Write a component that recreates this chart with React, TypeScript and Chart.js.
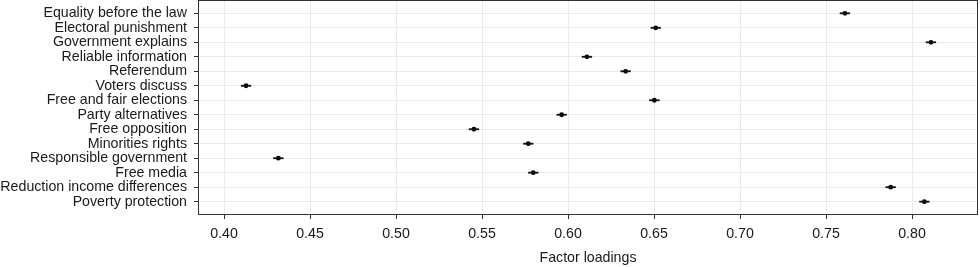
import React, { useEffect, useRef } from "react";
import { Chart, registerables } from "chart.js";

Chart.register(...registerables);

const categories = [
  "Equality before the law",
  "Electoral punishment",
  "Government explains",
  "Reliable information",
  "Referendum",
  "Voters discuss",
  "Free and fair elections",
  "Party alternatives",
  "Free opposition",
  "Minorities rights",
  "Responsible government",
  "Free media",
  "Reduction income differences",
  "Poverty protection",
];

const loadings = [0.761, 0.651, 0.811, 0.611, 0.6335, 0.4128, 0.6502, 0.5963, 0.5453, 0.5769, 0.4316, 0.5798, 0.7876, 0.8072];
const errors = [0.003, 0.003, 0.003, 0.003, 0.003, 0.003, 0.003, 0.003, 0.003, 0.003, 0.003, 0.003, 0.003, 0.003];
const xTicks = [0.4, 0.45, 0.5, 0.55, 0.6, 0.65, 0.7, 0.75, 0.8];

const FONT = "'Liberation Sans', Arial, Helvetica, sans-serif";
const FS = 14.2;

const panelPlugin = {
  id: "panelAndErrors",
  afterDatasetsDraw(chart: any) {
    const { ctx, chartArea, scales } = chart;
    const x = scales.x;
    const y = scales.y;
    ctx.save();
    ctx.strokeStyle = "#111";
    ctx.lineWidth = 1.8;
    ctx.lineCap = "butt";
    loadings.forEach((v, i) => {
      const py = y.getPixelForValue(i);
      ctx.beginPath();
      ctx.moveTo(x.getPixelForValue(v - errors[i]), py);
      ctx.lineTo(x.getPixelForValue(v + errors[i]), py);
      ctx.stroke();
    });
    ctx.strokeStyle = "#333333";
    ctx.lineWidth = 1;
    ctx.strokeRect(
      Math.round(chartArea.left) + 0.5,
      Math.round(chartArea.top) + 0.5,
      Math.round(chartArea.right - chartArea.left) - 1,
      Math.round(chartArea.bottom - chartArea.top) - 1
    );
    ctx.restore();
  },
};

export default function App() {
  const ref = useRef<HTMLCanvasElement>(null);
  useEffect(() => {
    if (!ref.current) return;
    const chart = new Chart(ref.current, {
      type: "scatter",
      data: {
        datasets: [
          {
            data: loadings.map((v, i) => ({ x: v, y: i })),
            backgroundColor: "#000",
            borderColor: "#000",
            pointRadius: 2.4,
            pointBorderWidth: 0,
          },
        ],
      },
      options: {
        responsive: false,
        animation: false,
        events: [],
        layout: { autoPadding: false, padding: { left: 0, right: 2, top: 0, bottom: 0 } },
        plugins: { legend: { display: false }, tooltip: { enabled: false } },
        scales: {
          x: {
            type: "linear",
            min: 0.38488,
            max: 0.83837,
            afterBuildTicks: (s: any) => {
              s.ticks = xTicks.map((v) => ({ value: v }));
            },
            afterFit: (s: any) => {
              s.height = 52;
              s.paddingLeft = 0;
              s.paddingRight = 0;
            },
            grid: { color: "#ebebeb", lineWidth: 1, tickColor: "#333", tickLength: 4 },
            border: { display: false },
            ticks: {
              color: "#1a1a1a",
              font: { family: FONT, size: FS },
              padding: 7,
              maxRotation: 0,
              callback: (v: any) => Number(v).toFixed(2),
            },
            title: {
              display: true,
              text: "Factor loadings",
              color: "#1a1a1a",
              font: { family: FONT, size: FS },
              padding: { top: 4, bottom: 0 },
            },
          },
          y: {
            type: "linear",
            reverse: true,
            min: -0.92,
            max: 13.92,
            afterBuildTicks: (s: any) => {
              s.ticks = categories.map((_, i) => ({ value: i }));
            },
            afterFit: (s: any) => {
              s.width = 198;
              s.paddingTop = 0;
              s.paddingBottom = 0;
            },
            grid: { color: "#ebebeb", lineWidth: 1, tickColor: "#333", tickLength: 4 },
            border: { display: false },
            ticks: {
              color: "#1a1a1a",
              font: { family: FONT, size: FS },
              padding: 7,
              autoSkip: false,
              callback: (v: any) => categories[Number(v)] ?? "",
            },
          },
        },
      },
      plugins: [panelPlugin],
    });
    return () => chart.destroy();
  }, []);
  return (
    <div style={{ position: "fixed", left: 0, top: 0, width: 980, height: 267, background: "#fff" }}>
      <canvas ref={ref} width={980} height={267} style={{ width: 980, height: 267, display: "block" }} />
    </div>
  );
}
